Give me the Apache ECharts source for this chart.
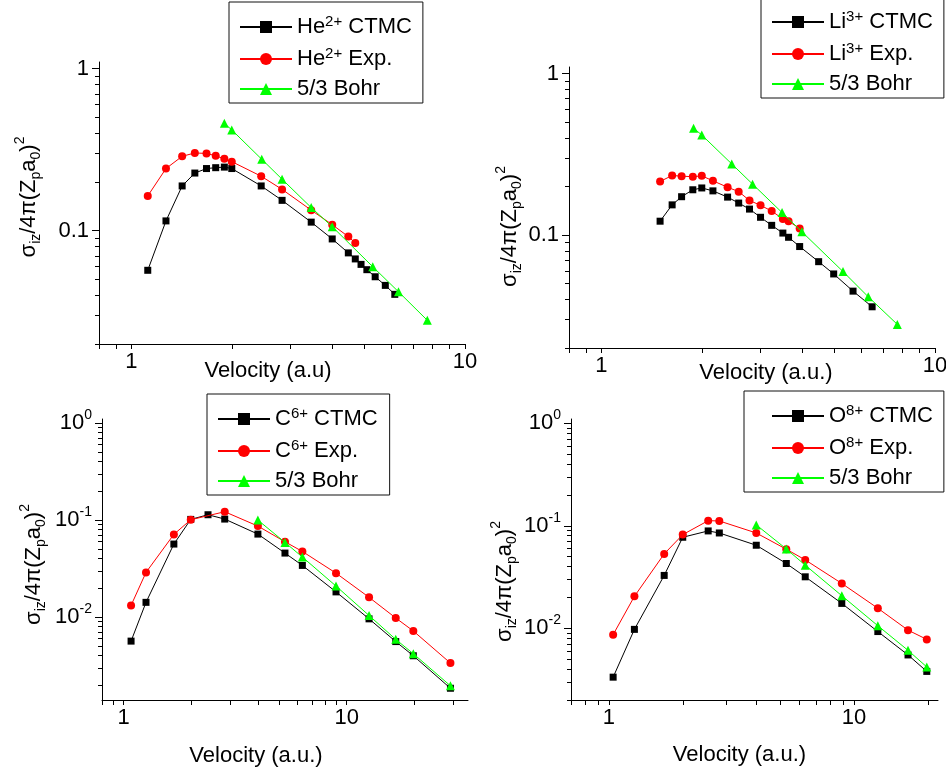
<!DOCTYPE html>
<html><head><meta charset="utf-8">
<script src="https://cdn.jsdelivr.net/npm/echarts@6/dist/echarts.min.js"></script>
<style>html,body{margin:0;padding:0;background:#fff}#c{width:946px;height:776px}</style>
</head><body><div id="c"></div>
<script>
// ---------- DATA ----------
// He2+
const heV_ctmc = [1.12,1.27,1.42,1.55,1.68,1.79,1.90,2.00,2.45,2.83,3.46,4.00,4.47,4.69,4.88,5.08,5.38,5.77,6.16];
const heY_ctmc = [0.057,0.115,0.189,0.227,0.242,0.245,0.247,0.242,0.189,0.154,0.113,0.089,0.073,0.067,0.062,0.0575,0.052,0.046,0.0405];
const heV_exp  = [1.12,1.27,1.42,1.55,1.68,1.79,1.90,2.00,2.45,2.83,3.46,4.00,4.47,4.69];
const heY_exp  = [0.164,0.242,0.288,0.302,0.300,0.290,0.278,0.267,0.217,0.180,0.134,0.109,0.092,0.084];
const heV_bohr = [1.90,2.00,2.46,2.83,3.46,4.00,5.29,6.32,7.71];
const heY_bohr = [0.460,0.419,0.276,0.208,0.139,0.106,0.060,0.042,0.028];
// Li3+
const liV_ctmc = [1.50,1.63,1.74,1.88,2.00,2.16,2.39,2.58,2.78,3.00,3.24,3.50,3.64,3.93,4.48,4.97,5.68,6.48];
const liY_ctmc = [0.122,0.154,0.173,0.191,0.196,0.188,0.172,0.158,0.145,0.129,0.115,0.103,0.097,0.085,0.0685,0.0575,0.045,0.036];
const liV_exp  = [1.50,1.63,1.74,1.88,2.00,2.16,2.39,2.58,2.78,3.00,3.24,3.50,3.64,3.93];
const liY_exp  = [0.215,0.234,0.232,0.230,0.233,0.217,0.198,0.186,0.164,0.153,0.141,0.126,0.122,0.110];
const liV_bohr = [1.89,2.00,2.46,2.84,3.48,3.99,5.30,6.31,7.71];
const liY_bohr = [0.460,0.417,0.276,0.207,0.138,0.105,0.0595,0.0415,0.028];
// C6+
const cV_ctmc = [1.08,1.26,1.68,2.00,2.39,2.84,4.00,5.29,6.33,8.96,12.6,16.6,19.9,29.2];
const cY_ctmc = [0.00566,0.0142,0.0566,0.1016,0.1135,0.1024,0.0717,0.0457,0.0341,0.0182,0.0096,0.0056,0.0040,0.00185];
const cV_exp  = [1.08,1.26,1.68,2.00,2.84,4.00,5.29,6.33,8.96,12.6,16.6,19.9,29.2];
const cY_exp  = [0.0132,0.0289,0.0712,0.1008,0.1219,0.0867,0.0598,0.0475,0.0284,0.0160,0.0098,0.0072,0.00336];
const cV_bohr = [4.00,5.29,6.33,8.96,12.6,16.6,19.9,29.2];
const cY_bohr = [0.100,0.0589,0.0416,0.0209,0.0104,0.0059,0.0042,0.00196];
// O8+
const oV_ctmc = [1.04,1.27,1.68,2.00,2.54,2.82,3.99,5.29,6.32,8.91,12.5,16.6,19.8];
const oY_ctmc = [0.00334,0.00977,0.0328,0.0773,0.0891,0.0851,0.0646,0.0429,0.0318,0.0175,0.0093,0.0055,0.0038];
const oV_exp  = [1.04,1.27,1.68,2.00,2.54,2.82,3.99,5.29,6.32,8.91,12.5,16.6,19.8];
const oY_exp  = [0.00868,0.0205,0.0532,0.082,0.1122,0.1114,0.0851,0.0591,0.0465,0.0274,0.0157,0.0096,0.0078];
const oV_bohr = [3.99,5.29,6.32,8.91,12.5,16.6,19.8];
const oY_bohr = [0.102,0.0595,0.0413,0.0208,0.0106,0.0061,0.0042];

// tick values
const xTicksA = [0.8,0.9,1,2,3,4,5,6,7,8,9,10];
const xTicksC = [0.8,0.9,1,2,3,4,5,6,7,8,9,10,20,30];
const xTicksO = [0.7,0.8,0.9,1,2,3,4,5,6,7,8,9,10,20];
const xLabels = [1,10];
const yMajorA = [0.1,1];
const yMinorA = [0.02,0.03,0.04,0.05,0.06,0.07,0.08,0.09,0.2,0.3,0.4,0.5,0.6,0.7,0.8,0.9];
const yMajorC = [0.01,0.1,1];
const yMinorC = [0.002,0.003,0.004,0.005,0.006,0.007,0.008,0.009,0.02,0.03,0.04,0.05,0.06,0.07,0.08,0.09,0.2,0.3,0.4,0.5,0.6,0.7,0.8,0.9];

// ---------- BUILD ----------
const FONT = '"Liberation Sans", Arial, Helvetica, sans-serif';
const BLACK = '#000000', RED = '#ff0000', GREEN = '#00ff00';
const zip = (a, b) => a.map((v, i) => [v, b[i]]);

const panels = [
  {ion:'He', q:'2+', grid:{left:99, top:62, width:366, height:282}, xMin:0.8, xMax:10, yMin:0.02, yMax:1.1,
   xTicks:xTicksA, yMajor:yMajorA, yMinor:yMinorA, pow:false,
   xName:'Velocity (a.u)', xGap:16, xPad:[0,28,0,0], yGap:54, yPad:[0,0,0,12],
   legend:{left:229, top:2, padding:[12,11,3,10]},
   d:[[heV_ctmc,heY_ctmc],[heV_exp,heY_exp],[heV_bohr,heY_bohr]]},
  {ion:'Li', q:'3+', grid:{left:569, top:67, width:366, height:281}, xMin:0.8, xMax:10, yMin:0.02, yMax:1.1,
   xTicks:xTicksA, yMajor:yMajorA, yMinor:yMinorA, pow:false,
   xName:'Velocity (a.u.)', xGap:14, xPad:[0,0,0,28], yGap:43, yPad:[0,38,0,0],
   legend:{left:761, top:-2, padding:[11,11,3,10]},
   d:[[liV_ctmc,liY_ctmc],[liV_exp,liY_exp],[liV_bohr,liY_bohr]]},
  {ion:'C', q:'6+', grid:{left:102, top:419, width:366, height:281}, xMin:0.8, xMax:35, yMin:0.0014, yMax:1.1,
   xTicks:xTicksC, yMajor:yMajorC, yMinor:yMinorC, pow:true,
   xName:'Velocity (a.u.)', xGap:45, xPad:[0,58,0,0], yGap:52, yPad:[0,10,0,0],
   legend:{left:207, top:394, padding:[12,12,3,10]},
   d:[[cV_ctmc,cY_ctmc],[cV_exp,cY_exp],[cV_bohr,cY_bohr]]},
  {ion:'O', q:'8+', grid:{left:571, top:419, width:367, height:281}, xMin:0.7, xMax:22, yMin:0.002, yMax:1.1,
   xTicks:xTicksO, yMajor:yMajorC, yMinor:yMinorC, pow:true,
   xName:'Velocity (a.u.)', xGap:44, xPad:[0,30,0,0], yGap:50, yPad:[0,44,0,0],
   legend:{left:744, top:391, padding:[12,11,3,27]},
   d:[[oV_ctmc,oY_ctmc],[oV_exp,oY_exp],[oV_bohr,oY_bohr]]}
];

const yNameRich = {
  n:{fontSize:22, lineHeight:32, fontFamily:FONT, color:BLACK},
  sb:{fontSize:14, lineHeight:14, verticalAlign:'bottom', fontFamily:FONT, color:BLACK, padding:[0,0,2,0]},
  sp:{fontSize:14, lineHeight:14, verticalAlign:'top', fontFamily:FONT, color:BLACK}
};
const yName = '{n|σ}{sb|iz}{n|/4π(Z}{sb|p}{n|a}{sb|0}{n|)}{sp|2}';

const grids = [], xAxes = [], yAxes = [], series = [], legends = [];
const legendLabels = {};
const axisLineStyle = {color:BLACK, width:1};

panels.forEach((p, i) => {
  grids.push(Object.assign({outerBoundsMode:'none', containLabel:false}, p.grid));
  xAxes.push({
    type:'log', logBase:10, gridIndex:i, position:'bottom', min:p.xMin, max:p.xMax,
    axisLine:{show:true, lineStyle:axisLineStyle},
    axisTick:{show:true, inside:false, length:5, customValues:p.xTicks, lineStyle:axisLineStyle},
    axisLabel:{show:true, customValues:xLabels, margin:7, fontSize:22, fontFamily:FONT, color:BLACK,
      formatter:v => String(Math.round(v))},
    splitLine:{show:false}, minorTick:{show:false},
    name:p.xName, nameLocation:'middle', nameGap:p.xGap, nameMoveOverlap:false,
    nameTextStyle:{fontSize:22, fontFamily:FONT, color:BLACK, padding:p.xPad}
  });
  yAxes.push({
    type:'log', logBase:10, gridIndex:i, position:'left', min:p.yMin, max:p.yMax,
    axisLine:{show:true, lineStyle:axisLineStyle},
    axisTick:{show:true, inside:false, length:7, customValues:p.yMajor, lineStyle:axisLineStyle},
    axisLabel:{show:true, customValues:p.yMajor, margin:10, fontFamily:FONT, color:BLACK, fontSize:22,
      formatter: p.pow
        ? (v => '{b|10}{s|' + Math.round(Math.log10(v)) + '}')
        : (v => String(+Number(v).toPrecision(3))),
      rich:{b:{fontSize:22, lineHeight:30, fontFamily:FONT, color:BLACK},
            s:{fontSize:14, lineHeight:14, verticalAlign:'top', fontFamily:FONT, color:BLACK}}},
    splitLine:{show:false},
    name:yName, nameLocation:'middle', nameRotate:90, nameGap:p.yGap, nameMoveOverlap:false,
    nameTextStyle:{padding:p.yPad, rich:yNameRich}
  });
  yAxes.push({
    type:'log', logBase:10, gridIndex:i, position:'left', min:p.yMin, max:p.yMax,
    axisLine:{show:false},
    axisTick:{show:true, inside:false, length:4, customValues:p.yMinor, lineStyle:axisLineStyle},
    axisLabel:{show:false}, splitLine:{show:false}
  });
  const names = [p.ion + ' CTMC', p.ion + ' Exp.', p.ion + ' Bohr'];
  legendLabels[names[0]] = '{n|' + p.ion + '}{s|' + p.q + '}{n| CTMC}';
  legendLabels[names[1]] = '{n|' + p.ion + '}{s|' + p.q + '}{n| Exp.}';
  legendLabels[names[2]] = '{n|5/3 Bohr}';
  const styles = [
    {symbol:'rect', size:7, color:BLACK},
    {symbol:'circle', size:8, color:RED},
    {symbol:'triangle', size:9, color:GREEN}
  ];
  p.d.forEach((dd, k) => {
    const st = styles[k];
    series.push({
      type:'line', name:names[k], xAxisIndex:i, yAxisIndex:2*i,
      data:zip(dd[0], dd[1]),
      symbol:st.symbol, symbolSize:st.size, showSymbol:true,
      lineStyle:{color:st.color, width:1},
      itemStyle:{color:st.color, borderWidth:0},
      emphasis:{disabled:true}, z:2+k, animation:false
    });
  });
  legends.push({
    data:names, orient:'vertical', left:p.legend.left, top:p.legend.top, padding:p.legend.padding,
    borderColor:'#111', borderWidth:1, backgroundColor:'#fff',
    itemWidth:52, itemHeight:15, itemGap:8, selectedMode:false,
    formatter:name => legendLabels[name],
    textStyle:{fontSize:22, fontFamily:FONT, color:BLACK,
      rich:{n:{fontSize:22, lineHeight:26, fontFamily:FONT, color:BLACK},
            s:{fontSize:15, lineHeight:15, verticalAlign:'top', fontFamily:FONT, color:BLACK}}}
  });
});

const chart = echarts.init(document.getElementById('c'), null, {renderer:'canvas'});
chart.setOption({
  animation:false, backgroundColor:'#ffffff',
  grid:grids, xAxis:xAxes, yAxis:yAxes, series:series, legend:legends
});
</script>
</body></html>
